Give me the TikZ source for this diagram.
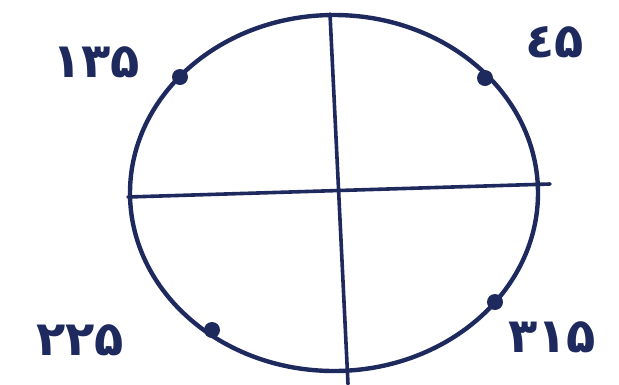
\documentclass[tikz,border=0pt]{standalone}
\usepackage{fontspec}
\newfontfamily\digitfont{DejaVu Sans}
\definecolor{ink}{HTML}{1E2A5E}
\begin{document}
\begin{tikzpicture}[x=1pt,y=-1pt,
  stroke/.style={draw=ink,line width=4.4pt,line cap=round},
  dot/.style={circle,fill=ink,inner sep=0pt,minimum size=16pt},
  lbl/.style={text=ink,font=\digitfont\bfseries\fontsize{48}{52}\selectfont,inner sep=0pt}]
\useasboundingbox (0,0) rectangle (619,384);
\draw[stroke] (334,193) ellipse [x radius=204, y radius=178];
\coordinate (hl) at (128,197);
\coordinate (hr) at (550,184);
\coordinate (vt) at (330,14);
\coordinate (vb) at (348,384);
\draw[stroke,line width=3.6pt] (hl) -- (hr);
\draw[stroke,line width=3.6pt] (vt) -- (vb);
\node[dot] (d135) at (180,77) {};
\node[dot] (d45) at (485,78) {};
\node[dot] (d225) at (212,330) {};
\node[dot] (d315) at (495,302) {};
\node[lbl] (l135) at (96,62) {۱۳۵};
\node[lbl] (l45) at (555,42) {٤۵};
\node[lbl] (l225) at (80,340) {۲۲۵};
\node[lbl] (l315) at (552,337) {۳۱۵};
\end{tikzpicture}
\end{document}
